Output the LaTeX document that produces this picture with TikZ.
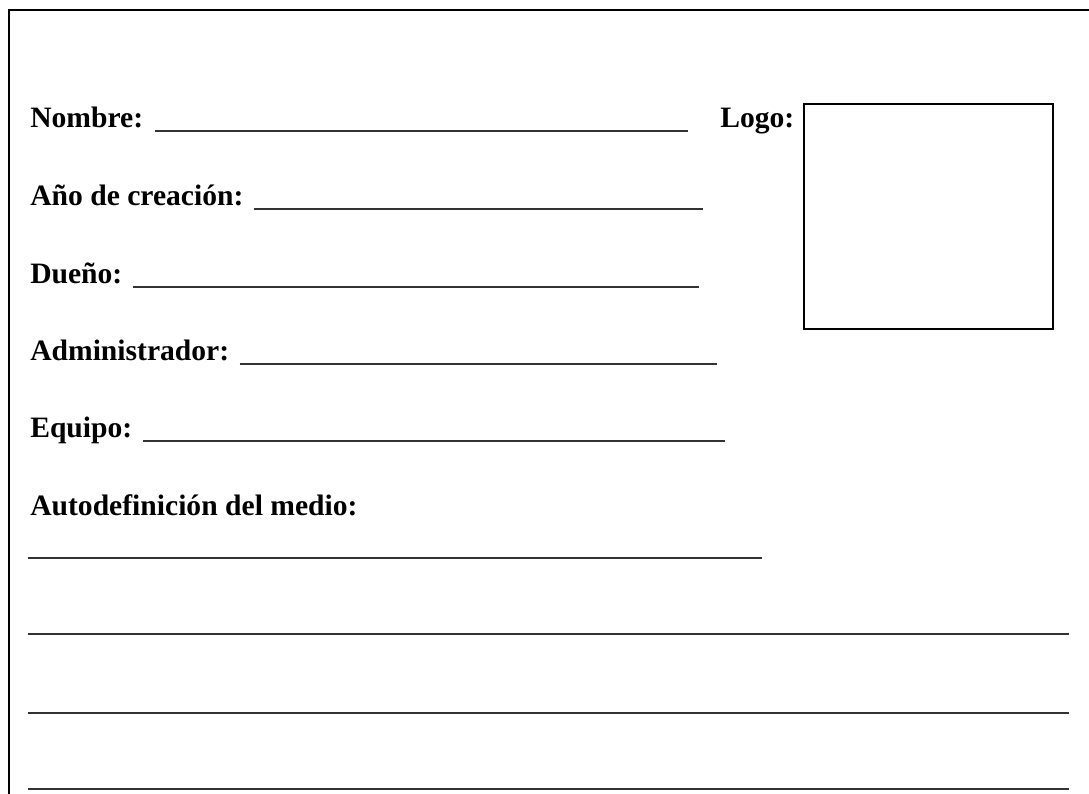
\documentclass[tikz,border=0pt]{standalone}
\usepackage{fontspec}
\setmainfont{Liberation Serif}
\begin{document}
\begin{tikzpicture}[x=0.75pt,y=-0.75pt,
  lbl/.style={anchor=base west,inner sep=0pt,font=\fontsize{22.2pt}{27pt}\selectfont\bfseries},
  blank/.style={draw=black!80,line width=1.5pt},
  frame/.style={draw=black,line width=1.5pt}]
\useasboundingbox (0,0) rectangle (1089,793);
\draw[frame] (8.5,800) -- (8.5,10) -- (1095,10);
\node[lbl] (nombre) at (30,127) {Nombre:};
\node[lbl] (logo) at (720,127) {Logo:};
\node[draw,line width=1.5pt,minimum width=249*0.75pt,minimum height=225*0.75pt,inner sep=0pt,anchor=north west] (logobox) at (803,103) {};
\node[lbl] (anio) at (30,205) {Año de creación:};
\node[lbl] (duenio) at (30,283) {Dueño:};
\node[lbl] (admin) at (30,360) {Administrador:};
\node[lbl] (equipo) at (30,437) {Equipo:};
\node[lbl] (auto) at (30,515) {Autodefinición del medio:};
\coordinate (eNombre) at (688,131);
\coordinate (eAnio) at (703,209);
\coordinate (eDuenio) at (699,287);
\coordinate (eAdmin) at (717,364);
\coordinate (eEquipo) at (725,441);
\draw[blank] ([shift={(12,4)}]nombre.base east) -- (eNombre);
\draw[blank] ([shift={(10,4)}]anio.base east) -- (eAnio);
\draw[blank] ([shift={(10,4)}]duenio.base east) -- (eDuenio);
\draw[blank] ([shift={(10,4)}]admin.base east) -- (eAdmin);
\draw[blank] ([shift={(10,4)}]equipo.base east) -- (eEquipo);
\coordinate (l1a) at (28,558); \coordinate (l1b) at (762,558);
\coordinate (l2a) at (28,634); \coordinate (l2b) at (1069,634);
\coordinate (l3a) at (28,713); \coordinate (l3b) at (1069,713);
\coordinate (l4a) at (28,789); \coordinate (l4b) at (1069,789);
\draw[blank] (l1a) -- (l1b);
\draw[blank] (l2a) -- (l2b);
\draw[blank] (l3a) -- (l3b);
\draw[blank] (l4a) -- (l4b);
\end{tikzpicture}
\end{document}
